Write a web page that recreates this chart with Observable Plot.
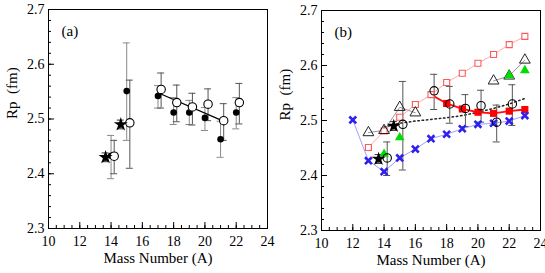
<!DOCTYPE html>
<html>
<head>
<meta charset="utf-8">
<script src="https://cdn.jsdelivr.net/npm/d3@7"></script>
<script src="https://cdn.jsdelivr.net/npm/@observablehq/plot@0.6"></script>
<style>
  body { margin: 0; background: white; }
  #wrap { position: relative; width: 545px; height: 273px; overflow: hidden; background: white; }
  #wrap svg { position: absolute; top: 0; overflow: visible; }
  #wrap svg text { font-family: 'Liberation Serif', 'Times New Roman', serif; }
</style>
</head>
<body>
<div id="wrap"></div>
<script>
// ---------- data ----------
// Panel (a) filled circles
const filledA  = [14, 15, 17, 18, 19, 20, 21, 22];
const filledRp = [2.433, 2.551, 2.542, 2.512, 2.512, 2.502, 2.463, 2.512];
const filledLo = [2.391, 2.461, 2.520, 2.490, 2.490, 2.479, 2.430, 2.482];
const filledHi = [2.470, 2.639, 2.561, 2.539, 2.534, 2.521, 2.496, 2.539];
// Open circles (both panels)
const openA  = [14.2, 15.2, 17.2, 18.2, 19.2, 20.2, 21.2, 22.2];
const openRp = [2.432, 2.493, 2.554, 2.530, 2.522, 2.527, 2.497, 2.530];
const openLo = [2.400, 2.410, 2.520, 2.495, 2.489, 2.497, 2.461, 2.491];
const openHi = [2.461, 2.571, 2.584, 2.562, 2.547, 2.555, 2.528, 2.565];
// Stars
const starA  = [13.65, 14.62];
const starRp = [2.430, 2.490];
const starLo = [2.422, 2.482];
const starHi = [2.438, 2.498];
// Fit line in (a)
const fitA  = [17.0, 21.1];
const fitRp = [2.548, 2.497];
// Panel (b) series
const pinkA  = [13, 14, 15, 16, 17, 18, 19, 20, 21, 22, 23];
const pinkRp = [2.451, 2.481, 2.506, 2.529, 2.547, 2.569, 2.586, 2.604, 2.620, 2.638, 2.653];
const redA  = [17, 18, 19, 20, 21, 22, 23];
const redRp = [2.547, 2.531, 2.521, 2.515, 2.513, 2.517, 2.520];
const blueA  = [12, 13, 14, 15, 16, 17, 18, 19, 20, 21, 22, 23];
const blueRp = [2.501, 2.427, 2.407, 2.432, 2.448, 2.467, 2.475, 2.485, 2.493, 2.495, 2.499, 2.509];
const triA1  = [13, 14, 15, 16];
const triRp1 = [2.478, 2.482, 2.524, 2.514];
const triA2  = [21, 22, 23];
const triRp2 = [2.572, 2.581, 2.610];
const greenA  = [14, 15, 22, 23];
const greenRp = [2.439, 2.469, 2.582, 2.591];
const dotA  = [14, 15, 16, 17, 18, 19, 20, 21, 22, 23];
const dotRp = [2.488, 2.495, 2.499, 2.502, 2.505, 2.509, 2.515, 2.522, 2.530, 2.540];

const xMajor = [10, 12, 14, 16, 18, 20, 22, 24];
const yMajor = [2.3, 2.4, 2.5, 2.6, 2.7];

// ---------- build tables ----------
const zip = (xs, ys, lo, hi) => xs.map((x, i) => ({A: x, Rp: ys[i], lo: lo ? lo[i] : undefined, hi: hi ? hi[i] : undefined}));
const filled = zip(filledA, filledRp, filledLo, filledHi);
const open = zip(openA, openRp, openLo, openHi);
const stars = zip(starA, starRp, starLo, starHi);
const fit = zip(fitA, fitRp);
const pink = zip(pinkA, pinkRp);
const red = zip(redA, redRp);
const blue = zip(blueA, blueRp);
const tri1 = zip(triA1, triRp1);
const tri2 = zip(triA2, triRp2);
const green = zip(greenA, greenRp);
const dotted = zip(dotA, dotRp);

const xMinor = d3.range(10, 24.001, 0.5);
const yMinor = d3.range(0, 21).map(i => 2.3 + i * 0.02);
const fmtY = d3.format(".1f");

function frameMarks(tag) {
  return [
    Plot.axisX(xMinor, {tickSize: -3, tickFormat: () => "", label: null}),
    Plot.axisX(xMajor, {tickSize: -6, tickPadding: 14, tickFormat: d => d, label: null, fontSize: 14}),
    Plot.axisY(yMinor, {tickSize: -3, tickFormat: () => "", label: null}),
    Plot.axisY(yMajor, {tickSize: -6, tickPadding: 10, tickFormat: fmtY, label: null, fontSize: 14}),
    Plot.frame({stroke: "black"}),
    Plot.text(["Mass Number (A)"], {frameAnchor: "bottom", dy: 34, fontSize: 15, text: d => d}),
    Plot.text(["Rp  (fm)"], {frameAnchor: "left", dx: -36, rotate: -90, fontSize: 15, text: d => d}),
    Plot.text([tag], {frameAnchor: "top-left", dx: 13, dy: 16, textAnchor: "start", fontSize: 15, text: d => d})
  ];
}

function errorBars(data, color) {
  return [
    Plot.ruleX(data, {x: "A", y1: "lo", y2: "hi", stroke: color}),
    Plot.ruleY(data, {y: "lo", x1: "A", x2: "A", insetLeft: -3.5, insetRight: -3.5, stroke: color}),
    Plot.ruleY(data, {y: "hi", x1: "A", x2: "A", insetLeft: -3.5, insetRight: -3.5, stroke: color})
  ];
}

const common = {
  height: 273,
  x: {domain: [10, 24], label: null},
  y: {domain: [2.3, 2.7], label: null},
  style: {fontFamily: "'Liberation Serif', 'Times New Roman', serif", fontSize: "14px", background: "transparent", color: "black", overflow: "visible"}
};

const plotA = Plot.plot({
  ...common,
  width: 272,
  marginLeft: 48, marginRight: 5, marginTop: 9, marginBottom: 45,
  marks: [
    ...frameMarks("(a)"),
    ...errorBars(filled, "#8a8a8a"),
    ...errorBars(open, "#555"),
    ...errorBars(stars, "#333"),
    Plot.line(fit, {x: "A", y: "Rp", stroke: "black", strokeWidth: 1.2}),
    Plot.dot(filled, {x: "A", y: "Rp", r: 3.3, fill: "black"}),
    Plot.dot(open, {x: "A", y: "Rp", r: 4.2, fill: "white", stroke: "black", strokeWidth: 1.1}),
    Plot.dot(stars, {x: "A", y: "Rp", r: 4.4, symbol: "star", fill: "black"})
  ]
});

const plotB = Plot.plot({
  ...common,
  width: 273,
  marginLeft: 49, marginRight: 5, marginTop: 10, marginBottom: 43,
  marks: [
    ...frameMarks("(b)"),
    Plot.line(pink, {x: "A", y: "Rp", stroke: "#ffaaaa", strokeWidth: 1}),
    Plot.line(blue, {x: "A", y: "Rp", stroke: "#a0a0ff", strokeWidth: 1}),
    Plot.line(tri1, {x: "A", y: "Rp", stroke: "#999", strokeWidth: 1}),
    Plot.line(tri2, {x: "A", y: "Rp", stroke: "#999", strokeWidth: 1}),
    Plot.line(dotted, {x: "A", y: "Rp", stroke: "#222", strokeWidth: 1.5, strokeDasharray: "1.5,2.8"}),
    Plot.line(red, {x: "A", y: "Rp", stroke: "#ff1010", strokeWidth: 1.8}),
    ...errorBars(open, "#555"),
    ...errorBars(stars, "#333"),
    Plot.dot(pink, {x: "A", y: "Rp", r: 3.4, symbol: "square", fill: "white", stroke: "#ff5a5a", strokeWidth: 1.1}),
    Plot.dot(red.slice(1), {x: "A", y: "Rp", r: 4, symbol: "square", fill: "#ff0000"}),
    Plot.dot(blue, {x: "A", y: "Rp", r: 3.2, symbol: "times", stroke: "#3020ee", strokeWidth: 2.6}),
    Plot.dot([...tri1, ...tri2], {x: "A", y: "Rp", r: 4, symbol: "triangle", fill: "white", fillOpacity: 0, stroke: "#222", strokeWidth: 1}),
    Plot.dot(green, {x: "A", y: "Rp", r: 3.6, symbol: "triangle", fill: "#00dd00"}),
    Plot.dot(open, {x: "A", y: "Rp", r: 4.2, fill: "none", stroke: "black", strokeWidth: 1.1}),
    Plot.dot(stars, {x: "A", y: "Rp", r: 4.4, symbol: "star", fill: "black"})
  ]
});

plotA.style.left = "0px";
plotB.style.left = "272px";
document.getElementById("wrap").append(plotA, plotB);
</script>
</body>
</html>
